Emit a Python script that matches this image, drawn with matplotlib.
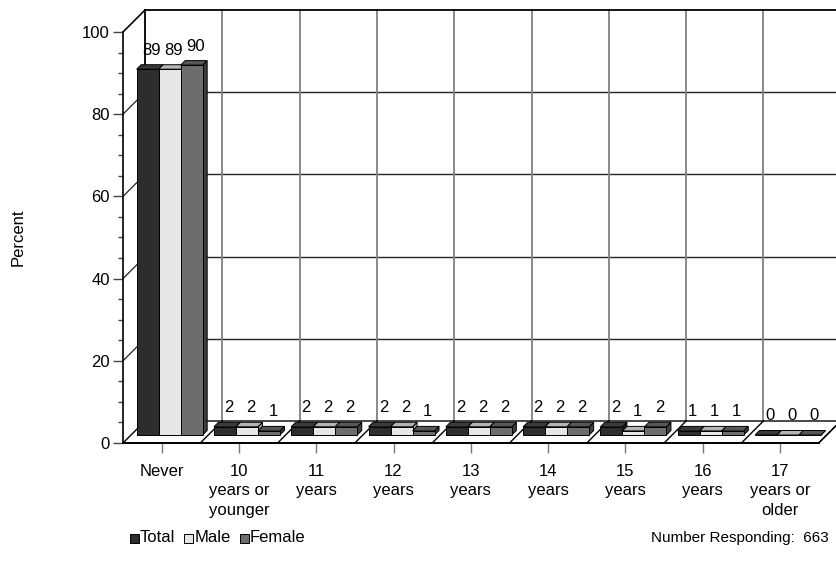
import matplotlib
matplotlib.use("Agg")
import matplotlib.pyplot as plt
from matplotlib.patches import Polygon, Rectangle
from matplotlib.ticker import MultipleLocator

plt.rcParams["font.family"] = ["Liberation Sans", "DejaVu Sans"]

# ---- data -------------------------------------------------------------
categories = ["Never", "10\nyears or\nyounger", "11\nyears", "12\nyears",
              "13\nyears", "14\nyears", "15\nyears", "16\nyears",
              "17\nyears or\nolder"]
series_names = ["Total", "Male", "Female"]
total = [89, 2, 2, 2, 2, 2, 2, 1, 0]
male = [89, 2, 2, 2, 2, 2, 1, 1, 0]
female = [90, 1, 2, 1, 2, 2, 2, 1, 0]
y_ticks = [0, 20, 40, 60, 80, 100]
responding = 663

series = [total, male, female]
front_col = ["#2d2d2d", "#e6e6e6", "#6d6d6d"]
top_col = ["#3a3a3a", "#b4b4b4", "#575757"]
side_col = ["#1c1c1c", "#9c9c9c", "#3e3e3e"]

FS = 12

# ---- figure / axes ----------------------------------------------------
W, H, DPI = 836, 565, 100
fig = plt.figure(figsize=(W / DPI, H / DPI), dpi=DPI)
ax = fig.add_axes([123 / W, 1 - 443 / H, 695.7 / W, 411 / H])
n = len(categories)
ax.set_xlim(0, n)
ax.set_ylim(0, 100)
fig.canvas.draw()

# pixel -> data conversion for the depth (oblique) offset
p0 = ax.transData.transform((0, 0))
p1 = ax.transData.transform((1, 1))
kx = 1.0 / (p1[0] - p0[0])
ky = 1.0 / (p1[1] - p0[1])


def sh(x, y, d):
    """Point (x, y) pushed back by d pixels of depth."""
    return (x + d * kx, y + d * ky)


WALL = 22          # depth of back wall in px
B_FRONT, B_BACK = 8, 12.5   # bar depth span in px

# back wall
ax.add_patch(Polygon([sh(0, 0, WALL), sh(n, 0, WALL), sh(n, 100, WALL),
                      sh(0, 100, WALL)], closed=True, facecolor="white",
                     edgecolor="none", clip_on=False, zorder=1))
for v in y_ticks[1:-1]:
    ax.plot(*zip(sh(0, v, WALL), sh(n, v, WALL)), color="#222222", lw=1.0,
            clip_on=False, zorder=2)
    ax.plot(*zip(sh(0, v, 0), sh(0, v, WALL)), color="#222222", lw=0.9,
            clip_on=False, zorder=2)
for i in range(1, n + 1):
    ax.plot(*zip(sh(i, 0, WALL), sh(i, 100, WALL)), color="#808080", lw=1.3,
            clip_on=False, zorder=2)
ax.plot(*zip(sh(0, 100, WALL), sh(n, 100, WALL)), color="black", lw=1.3,
        clip_on=False, zorder=3)
ax.plot(*zip(sh(0, 0, WALL), sh(0, 100, WALL)), color="black", lw=1.3,
        clip_on=False, zorder=3)
ax.plot(*zip(sh(0, 100, 0), sh(0, 100, WALL)), color="black", lw=1.2,
        clip_on=False, zorder=3)

# floor
ax.add_patch(Polygon([sh(0, 0, 0), sh(n, 0, 0), sh(n, 0, WALL),
                      sh(0, 0, WALL)], closed=True, facecolor="white",
                     edgecolor="black", lw=1.0, clip_on=False, zorder=4))
for i in range(1, n + 1):
    ax.plot(*zip(sh(i, 0, 0), sh(i, 0, WALL)), color="black", lw=1.0,
            clip_on=False, zorder=4)

# bars
bw = 0.2846
gap = 1 - 3 * bw
z = 5
for i in range(n):
    for j, vals in enumerate(series):
        v = vals[i]
        x0 = i + gap / 2 + j * bw
        x1 = x0 + bw
        side = [sh(x1, 0, B_FRONT), sh(x1, 0, B_BACK), sh(x1, v, B_BACK),
                sh(x1, v, B_FRONT)]
        top = [sh(x0, v, B_FRONT), sh(x1, v, B_FRONT), sh(x1, v, B_BACK),
               sh(x0, v, B_BACK)]
        front = [sh(x0, 0, B_FRONT), sh(x1, 0, B_FRONT), sh(x1, v, B_FRONT),
                 sh(x0, v, B_FRONT)]
        for poly, col in ((side, side_col[j]), (top, top_col[j]),
                          (front, front_col[j])):
            ax.add_patch(Polygon(poly, closed=True, facecolor=col,
                                 edgecolor="black", lw=0.7, clip_on=False,
                                 zorder=z))
            z += 0.01
        lx, ly = sh((x0 + x1) / 2, v, B_FRONT)
        lx += 4 * kx
        ly += 19 * ky
        ax.text(lx, ly, f"{v}", ha="center", va="center", fontsize=FS,
                color="black", zorder=50)

# axes decoration
for s in ("top", "right"):
    ax.spines[s].set_visible(False)
ax.spines["left"].set_color("black")
ax.spines["left"].set_linewidth(1.2)
ax.spines["bottom"].set_color("black")
ax.spines["bottom"].set_linewidth(1.4)
ax.spines["left"].set_zorder(60)
ax.spines["bottom"].set_zorder(60)
ax.patch.set_visible(False)

ax.set_yticks(y_ticks)
ax.yaxis.set_minor_locator(MultipleLocator(5))
ax.tick_params(axis="y", which="major", length=7.2, width=1.0,
               color="#444444", direction="out", pad=2.2, labelsize=FS)
ax.tick_params(axis="y", which="minor", length=3.6, width=1.0,
               color="#444444", direction="out")
ax.set_xticks([i + 0.5 for i in range(n)])
ax.set_xticklabels(categories, fontsize=FS, linespacing=1.36)
ax.tick_params(axis="x", which="major", length=7.2, width=1.0,
               color="#777777", direction="out", pad=8.0)

fig.text(18 / W, 1 - 237 / H, "Percent", rotation=90, ha="center",
         va="center", fontsize=FS)

# legend
lx = 130
for j, name in enumerate(series_names):
    fig.patches.append(Rectangle((lx / W, 1 - 543 / H), 9 / W, 9 / H,
                                 transform=fig.transFigure,
                                 facecolor=front_col[j], edgecolor="black",
                                 lw=0.7))
    t = fig.text((lx + 10) / W, 1 - 538 / H, name, ha="left", va="center",
                 fontsize=12)
    fig.canvas.draw()
    bb = t.get_window_extent()
    lx = bb.x1 + 9

fig.text(829 / W, 1 - 538 / H, f"Number Responding:  {responding}",
         ha="right", va="center", fontsize=11)

fig.savefig("out.png", dpi=DPI)
